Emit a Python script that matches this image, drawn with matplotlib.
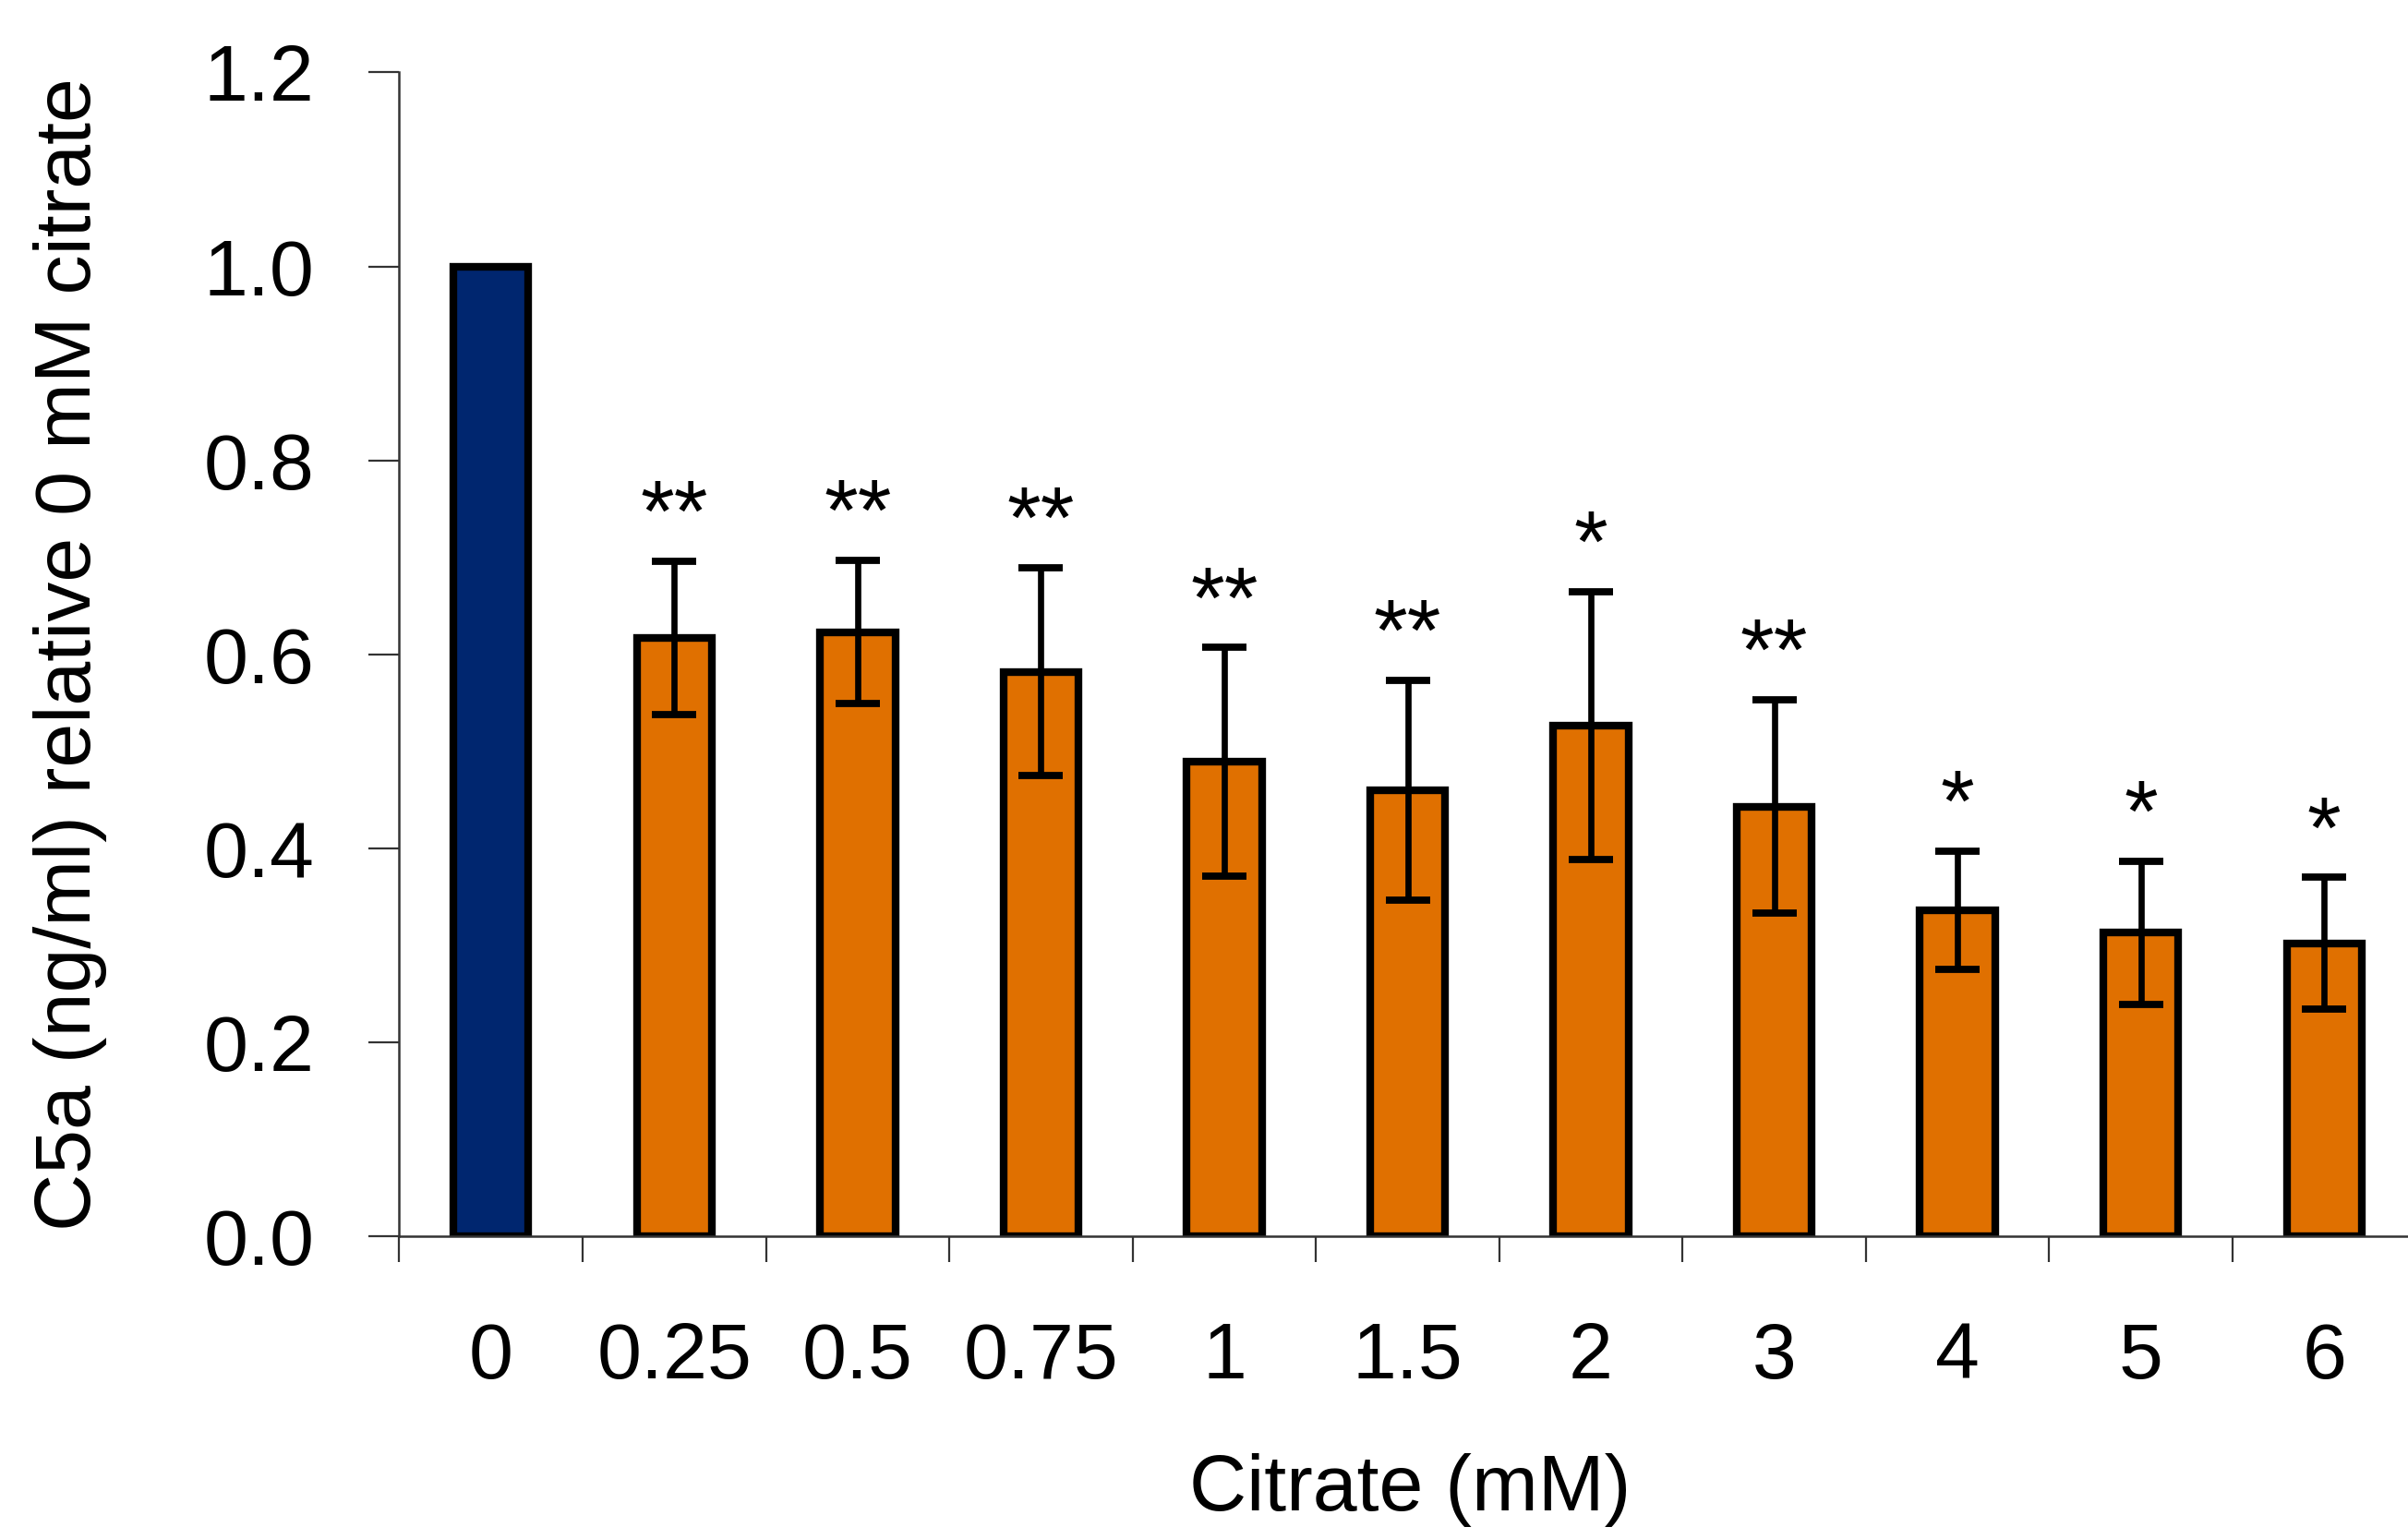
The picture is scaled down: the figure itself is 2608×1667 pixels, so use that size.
import numpy as np
import matplotlib
matplotlib.use("Agg")
import matplotlib.pyplot as plt

plt.rcParams['font.family'] = ['Liberation Sans', 'DejaVu Sans']

# data
citrate_labels = ['0', '0.25', '0.5', '0.75', '1', '1.5', '2', '3', '4', '5', '6']
c5a_rel = [1.0, 0.617, 0.623, 0.582, 0.489, 0.460, 0.527, 0.443, 0.336, 0.313, 0.302]
c5a_err = [0.0, 0.079, 0.074, 0.107, 0.118, 0.113, 0.138, 0.110, 0.061, 0.074, 0.068]
signif = ['', '**', '**', '**', '**', '**', '*', '**', '*', '*', '*']

navy = '#00266F'
orange = '#E07000'

fig = plt.figure(figsize=(13.04, 8.335), dpi=200)
ax = fig.add_axes([0.1658, 0.1966, 0.8375, 0.7564])

x = np.arange(len(citrate_labels))
colors = [navy] + [orange] * (len(x) - 1)
ax.bar(x, c5a_rel, width=0.41, color=colors, edgecolor='black', linewidth=3.0, zorder=2)

# error bars only for the citrate-treated samples
ax.errorbar(x[1:], c5a_rel[1:], yerr=c5a_err[1:], fmt='none', ecolor='black',
            elinewidth=2.4, capsize=8.5, capthick=2.8, zorder=3)

for xi, v, e, s in zip(x, c5a_rel, c5a_err, signif):
    if s:
        ax.text(xi, v + e + 0.002, s, ha='center', va='bottom', fontsize=34)

ax.set_xlim(-0.5, len(x) - 0.5)
ax.set_ylim(0, 1.2)
ax.set_yticks(np.arange(0, 1.21, 0.2))
ax.set_yticklabels([f'{t:.1f}' for t in np.arange(0, 1.21, 0.2)])

ax.set_xticks(x)
ax.set_xticklabels(citrate_labels)
ax.set_xticks(np.arange(-0.5, len(x) - 0.4, 1.0), minor=True)
ax.tick_params(axis='x', which='major', length=0, pad=33, labelsize=31)
ax.tick_params(axis='x', which='minor', length=10, width=0.8, direction='out', color='#333333')
ax.tick_params(axis='y', length=12, width=0.8, pad=21, labelsize=31, color='#333333')

for side in ['top', 'right']:
    ax.spines[side].set_visible(False)
for side in ['left', 'bottom']:
    ax.spines[side].set_linewidth(0.9)
    ax.spines[side].set_color('#333333')

fig.text(0.029, 0.575, 'C5a (ng/ml) relative 0 mM citrate', rotation=90,
         ha='center', va='center', fontsize=31)
fig.text(0.5855, 0.032, 'Citrate (mM)', ha='center', va='center', fontsize=31)

fig.savefig('out.png', dpi=200)
